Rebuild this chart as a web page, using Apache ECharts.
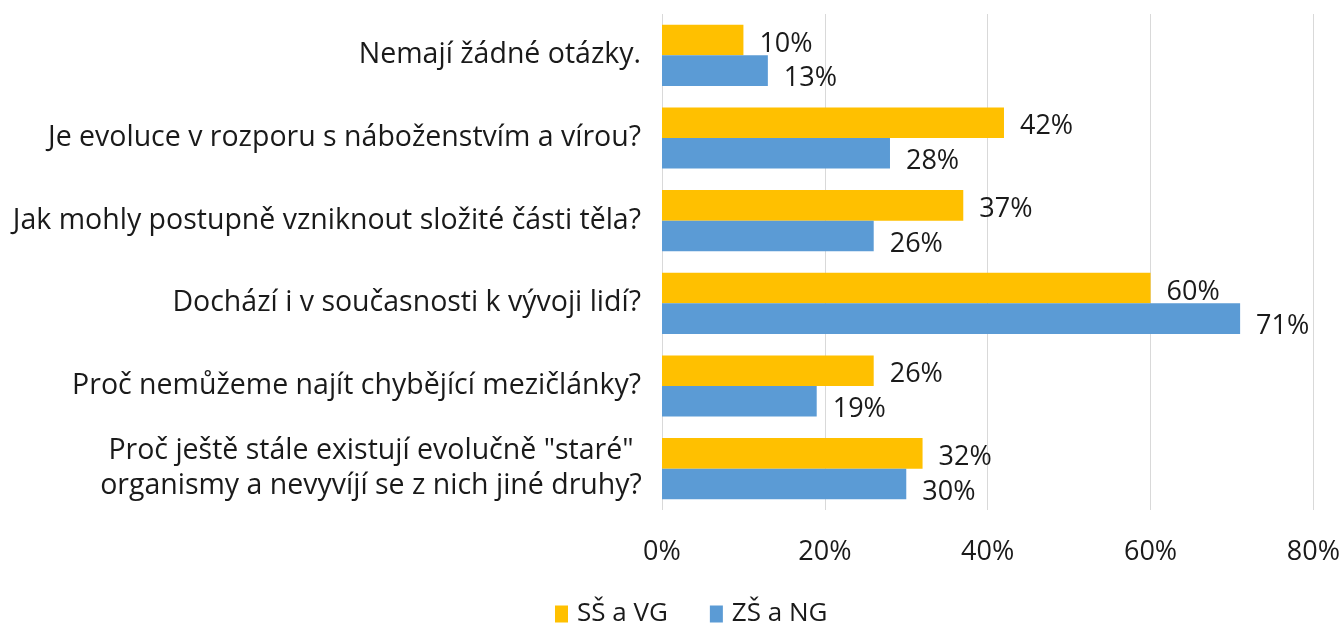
<!DOCTYPE html>
<html>
<head>
<meta charset="utf-8">
<script src="https://cdn.jsdelivr.net/npm/echarts@6/dist/echarts.min.js"></script>
<style>
  html, body { margin: 0; padding: 0; background: #fff; }
  #chart { width: 1343px; height: 625px; }
</style>
</head>
<body>
<div id="chart"></div>
<script>
// otázky (shora dolů)
const categories = [
  "Nemají žádné otázky.",
  "Je evoluce v rozporu s náboženstvím a vírou?",
  "Jak mohly postupně vzniknout složité části těla?",
  "Dochází i v současnosti k vývoji lidí?",
  "Proč nemůžeme najít chybějící mezičlánky?",
  "Proč ještě stále existují evolučně \"staré\"\norganismy a nevyvíjí se z nich jiné druhy?"
];
const seriesNames = ["SŠ a VG", "ZŠ a NG"];
const ssVg = [10, 42, 37, 60, 26, 32];
const zsNg = [13, 28, 26, 71, 19, 30];
const xTicks = [0, 20, 40, 60, 80];

const font = "'Open Sans', 'Liberation Sans', sans-serif";
const textColor = "#1a1a1a";
const chart = echarts.init(document.getElementById("chart"));

// popisky hodnot
function barLabel(dy) {
  return {
    show: true,
    position: "right",
    distance: 16,
    offset: [0, dy],
    formatter: "{c}%",
    color: textColor,
    fontFamily: font,
    fontSize: 27
  };
}

const options = {
  animation: false,
  textStyle: { fontFamily: font },
  color: ["#FFC000", "#5B9BD5"],
  grid: { left: 662, right: 29, top: 14, bottom: 115, containLabel: false },
  legend: {
    data: seriesNames,
    top: 596,
    left: 550,
    itemWidth: 13,
    itemHeight: 17,
    itemGap: 42,
    icon: "rect",
    textStyle: { color: textColor, fontSize: 26, fontFamily: font, padding: [0, 0, 0, 4] }
  },
  xAxis: {
    type: "value",
    min: xTicks[0],
    max: xTicks[xTicks.length - 1],
    interval: 20,
    axisLine: { show: false },
    axisTick: { show: false },
    splitLine: { lineStyle: { color: "#d9d9d9", width: 1 } },
    axisLabel: {
      formatter: "{value}%",
      margin: 29,
      color: textColor,
      fontSize: 27,
      fontFamily: font
    }
  },
  yAxis: {
    type: "category",
    inverse: true,
    data: categories,
    axisLine: { show: false },
    axisTick: { show: false },
    axisLabel: {
      margin: 21,
      color: textColor,
      fontSize: 28.5,
      lineHeight: 35,
      fontFamily: font,
      // dvouřádkový popisek má řádky na střed
      formatter: function (v) {
        if (v.indexOf("\n") < 0) return v;
        return v.split("\n").map(function (s) { return "{c|" + s + "}"; }).join("\n");
      },
      rich: {
        c: { width: 540, align: "center", fontSize: 28.5, lineHeight: 35, fontFamily: font, color: textColor }
      }
    }
  },
  series: [
    {
      name: seriesNames[0],
      type: "bar",
      data: ssVg,
      barGap: "0%",
      barCategoryGap: "26%",
      label: barLabel(4)
    },
    {
      name: seriesNames[1],
      type: "bar",
      data: zsNg,
      barGap: "0%",
      barCategoryGap: "26%",
      label: barLabel(8)
    }
  ]
};
chart.setOption(options);
window.onresize = function () {
  chart.resize();
};
</script>
</body>
</html>
